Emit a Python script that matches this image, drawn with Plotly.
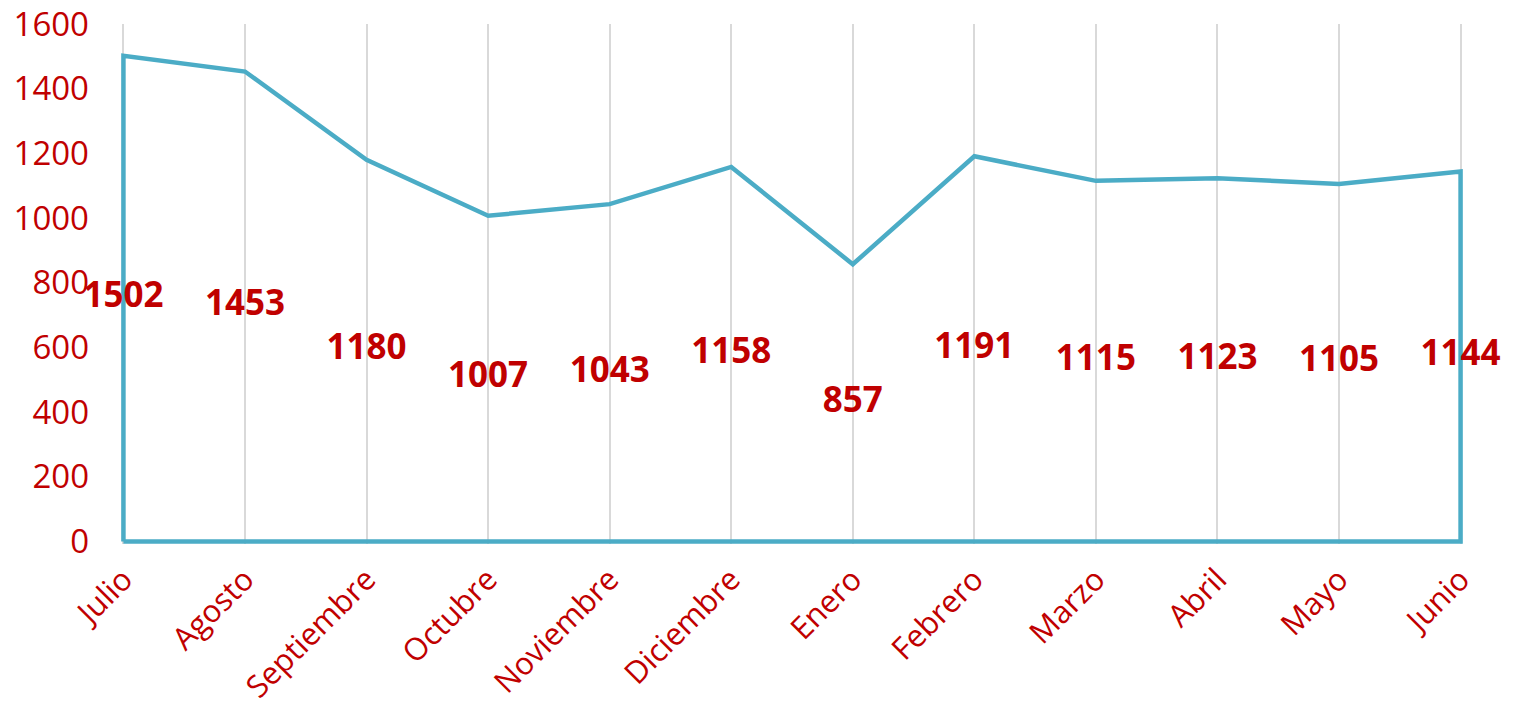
import plotly.graph_objects as go

months = ["Julio", "Agosto", "Septiembre", "Octubre", "Noviembre", "Diciembre",
          "Enero", "Febrero", "Marzo", "Abril", "Mayo", "Junio"]
values = [1502, 1453, 1180, 1007, 1043, 1158, 857, 1191, 1115, 1123, 1105, 1144]
y_ticks = [0, 200, 400, 600, 800, 1000, 1200, 1400, 1600]

RED = "#C00000"
LINE = "#4BACC6"
FONT = "Open Sans"

idx = list(range(len(months)))
# area outline (Excel area chart with no fill)
px = [idx[0]] + idx + [idx[-1], idx[0]]
py = [0] + values + [0, 0]

fig = go.Figure()
fig.add_trace(go.Scatter(
    x=px, y=py, mode="lines",
    line=dict(color=LINE, width=4.5), cliponaxis=False,
    hoverinfo="skip", showlegend=False,
))
fig.add_trace(go.Scatter(
    x=idx, y=[v / 2 for v in values], mode="text",
    text=[str(v) for v in values],
    textfont=dict(family=FONT, size=35, color=RED, weight="bold"),
    textposition="middle center", cliponaxis=False, showlegend=False,
))

fig.update_layout(
    width=1513, height=713,
    margin=dict(l=120.6, r=49.6, t=24, b=169.4, autoexpand=False),
    paper_bgcolor="white", plot_bgcolor="white",
    font=dict(family=FONT, color=RED),
    xaxis=dict(
        range=[-0.02, len(months) - 1 + 0.02],
        tickmode="array", tickvals=idx, ticktext=months,
        tickangle=-45, tickfont=dict(size=31, color=RED, family=FONT),
        showgrid=True, gridcolor="#D9D9D9", gridwidth=1.5,
        zeroline=False, showline=False, ticks="",
        automargin=False, ticklabelstandoff=10,
        ticklabeloverflow="allow",
    ),
    yaxis=dict(
        range=[-8, 1600], tickmode="array", tickvals=y_ticks,
        tickfont=dict(size=33, color=RED, family=FONT),
        showgrid=False, zeroline=False, showline=False, ticks="",
        ticklabelstandoff=31, automargin=False,
        ticklabeloverflow="allow",
    ),
)

fig.write_html("out.html", config={"displayModeBar": False},
               post_script="document.body.style.margin='0';")
